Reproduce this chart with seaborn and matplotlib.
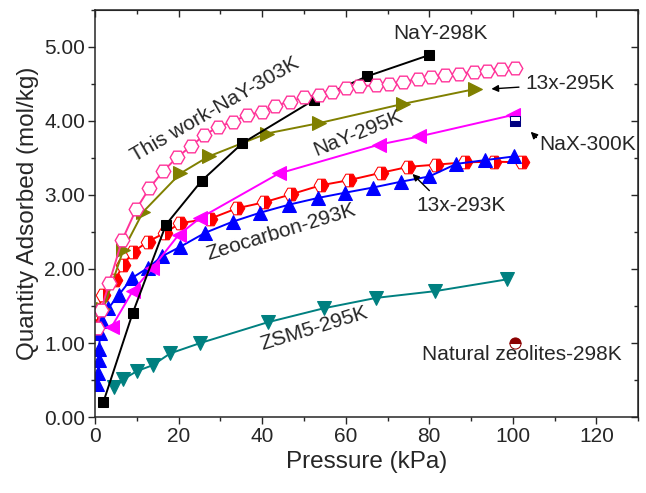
import matplotlib
matplotlib.use('Agg')
import matplotlib.pyplot as plt
import seaborn as sns
from matplotlib.ticker import MultipleLocator, FormatStrFormatter

# data
nay298_x = [2, 9, 17, 25.5, 35.3, 52.3, 65, 80]
nay298_y = [0.2, 1.4, 2.6, 3.19, 3.7, 4.28, 4.6, 4.89]

thiswork_x = [0.5, 1.5, 3.4, 6.5, 9.9, 13, 16.3, 19.7, 23, 26.2, 29.5, 33, 36.5, 40, 43,
              46.6, 50, 53.6, 56.7, 60, 63.2, 67.3, 70.4, 73.8, 77.2, 80.5, 83.7, 87,
              90.6, 93.8, 97.1, 100.5]
thiswork_y = [1.2, 1.45, 1.81, 2.39, 2.81, 3.09, 3.32, 3.51, 3.66, 3.81, 3.92, 3.99, 4.08,
              4.12, 4.2, 4.26, 4.32, 4.35, 4.39, 4.44, 4.47, 4.48, 4.5, 4.53, 4.56, 4.59,
              4.62, 4.64, 4.66, 4.68, 4.7, 4.72]

x13_295_x = [2, 6.8, 11.5, 20.4, 27.2, 41.1, 53.6, 73.7, 90.9]
x13_295_y = [1.46, 2.26, 2.77, 3.29, 3.52, 3.83, 3.97, 4.23, 4.43]

nay295_x = [4, 9, 13.7, 20, 25.2, 44, 68, 77.6, 100]
nay295_y = [1.22, 1.7, 2.01, 2.46, 2.69, 3.29, 3.68, 3.79, 4.08]

zeo_x = [0.5, 0.7, 0.9, 1.0, 1.2, 1.6, 3.2, 5.7, 8.9, 12.8, 16, 20.4, 26.4, 33, 39.5,
         46.5, 53.4, 59.8, 66.5, 73.3, 80, 86.5, 93.3, 100.2]
zeo_y = [0.45, 0.6, 0.77, 0.92, 1.13, 1.3, 1.47, 1.65, 1.88, 2.02, 2.17, 2.3, 2.49, 2.64,
         2.76, 2.87, 2.96, 3.03, 3.1, 3.18, 3.25, 3.42, 3.47, 3.52]

x13_293_x = [0.3, 0.5, 1.9, 4.8, 6.7, 9.1, 12.7, 16.8, 20.4, 27.6, 34, 40.4, 47, 54, 60.8,
             68.5, 75, 81.7, 88.5, 95.4, 102.2]
x13_293_y = [1.22, 1.4, 1.65, 1.85, 2.05, 2.23, 2.37, 2.49, 2.62, 2.68, 2.82, 2.9, 3.01,
             3.13, 3.2, 3.3, 3.38, 3.41, 3.44, 3.45, 3.44]

zsm5_x = [4.6, 6.8, 10, 13.8, 18, 25.2, 41.3, 54.8, 67.3, 81.3, 98.6]
zsm5_y = [0.4, 0.51, 0.62, 0.7, 0.86, 1.0, 1.28, 1.47, 1.61, 1.7, 1.86]

nax300_x = [100.4]
nax300_y = [4.0]

natural_x = [100.5]
natural_y = [1.0]

sns.set_style('ticks')
plt.rcParams['font.family'] = ['Liberation Sans', 'DejaVu Sans']

fig = plt.figure(figsize=(6.46, 4.93), dpi=100)
ax = fig.add_axes([0.147, 0.154, 0.841, 0.826])

common = dict(ax=ax, estimator=None, sort=False, linewidth=1.4, legend=False)

sns.lineplot(x=zsm5_x, y=zsm5_y, color='#008080', marker='v', markersize=9.5,
             markeredgecolor='#008080', **common)
sns.lineplot(x=x13_293_x, y=x13_293_y, color='#FF0000', marker='H', markersize=10.5,
             fillstyle='right', markerfacecoloralt='white', markeredgecolor='#FF0000',
             **common)
sns.lineplot(x=zeo_x, y=zeo_y, color='#0000FF', marker='^', markersize=9.5,
             markeredgecolor='#0000FF', **common)
sns.lineplot(x=nay295_x, y=nay295_y, color='#FF00FF', marker='<', markersize=9.5,
             markeredgecolor='#FF00FF', **common)
sns.lineplot(x=x13_295_x, y=x13_295_y, color='#808000', marker='>', markersize=9.5,
             markeredgecolor='#808000', **common)
sns.lineplot(x=nay298_x, y=nay298_y, color='black', marker='s', markersize=7.5,
             markeredgecolor='black', **common)
sns.lineplot(x=thiswork_x, y=thiswork_y, color='#FF3399', marker='H', markersize=10.5,
             markerfacecolor='white', markeredgecolor='#FF3399', markeredgewidth=1.0,
             **common)
sns.lineplot(x=nax300_x, y=nax300_y, color='#000080', marker='s', markersize=7.5,
             fillstyle='bottom', markerfacecoloralt='white', markeredgecolor='#000080',
             **common)
sns.lineplot(x=natural_x, y=natural_y, color='#8B0000', marker='o', markersize=8,
             fillstyle='top', markerfacecoloralt='white', markeredgecolor='#8B0000',
             **common)

fs = 15
ax.set_xlim(0, 130)
ax.set_ylim(0, 5.5)
ax.xaxis.set_major_locator(MultipleLocator(20))
ax.xaxis.set_minor_locator(MultipleLocator(10))
ax.yaxis.set_major_locator(MultipleLocator(1))
ax.yaxis.set_minor_locator(MultipleLocator(0.5))
ax.yaxis.set_major_formatter(FormatStrFormatter('%.2f'))
ax.tick_params(which='major', direction='out', length=5, width=1, labelsize=fs, pad=2)
ax.tick_params(which='minor', direction='out', length=3, width=1)
ax.set_xlabel('Pressure (kPa)', fontsize=17.5, labelpad=4)
ax.set_ylabel('Quantity Adsorbed (mol/kg)', fontsize=17.5, labelpad=4)
for s in ax.spines.values():
    s.set_linewidth(1.1)

# mirrored ticks pointing inward on top and right
top = ax.secondary_xaxis('top')
top.xaxis.set_major_locator(MultipleLocator(20))
top.xaxis.set_minor_locator(MultipleLocator(10))
top.tick_params(which='major', direction='in', length=5, width=1, labeltop=False)
top.tick_params(which='minor', direction='in', length=3, width=1)
right = ax.secondary_yaxis('right')
right.yaxis.set_major_locator(MultipleLocator(1))
right.yaxis.set_minor_locator(MultipleLocator(0.5))
right.tick_params(which='major', direction='in', length=5, width=1, labelright=False)
right.tick_params(which='minor', direction='in', length=3, width=1)

# annotations
ax.text(82.7, 5.18, 'NaY-298K', fontsize=fs, ha='center', va='center')
ax.text(28.8, 4.15, 'This work-NaY-303K', fontsize=fs, ha='center', va='center',
        rotation=30, rotation_mode='anchor')
ax.text(63, 3.84, 'NaY-295K', fontsize=fs, ha='center', va='center', rotation=22,
        rotation_mode='anchor')
ax.text(44.5, 2.5, 'Zeocarbon-293K', fontsize=fs, ha='center', va='center', rotation=17,
        rotation_mode='anchor')
ax.text(52.4, 1.2, 'ZSM5-295K', fontsize=fs, ha='center', va='center', rotation=17,
        rotation_mode='anchor')
ax.text(102.2, 0.84, 'Natural zeolites-298K', fontsize=fs, ha='center', va='center')

arrow = dict(arrowstyle='-|>', color='black', lw=1.0, mutation_scale=10)
ax.annotate('13x-295K', xy=(94.2, 4.43), xytext=(102.9, 4.5), fontsize=fs,
            ha='left', va='center', arrowprops=arrow)
ax.annotate('NaX-300K', xy=(103.8, 3.88), xytext=(118, 3.68), fontsize=fs,
            ha='center', va='center',
            arrowprops=dict(arrow, shrinkA=0, relpos=(0.0, 0.7)))
ax.annotate('13x-293K', xy=(75.5, 3.31), xytext=(87.7, 2.86), fontsize=fs,
            ha='center', va='center',
            arrowprops=dict(arrow, relpos=(0.2, 1.0)))

fig.savefig('out.png', dpi=100)
